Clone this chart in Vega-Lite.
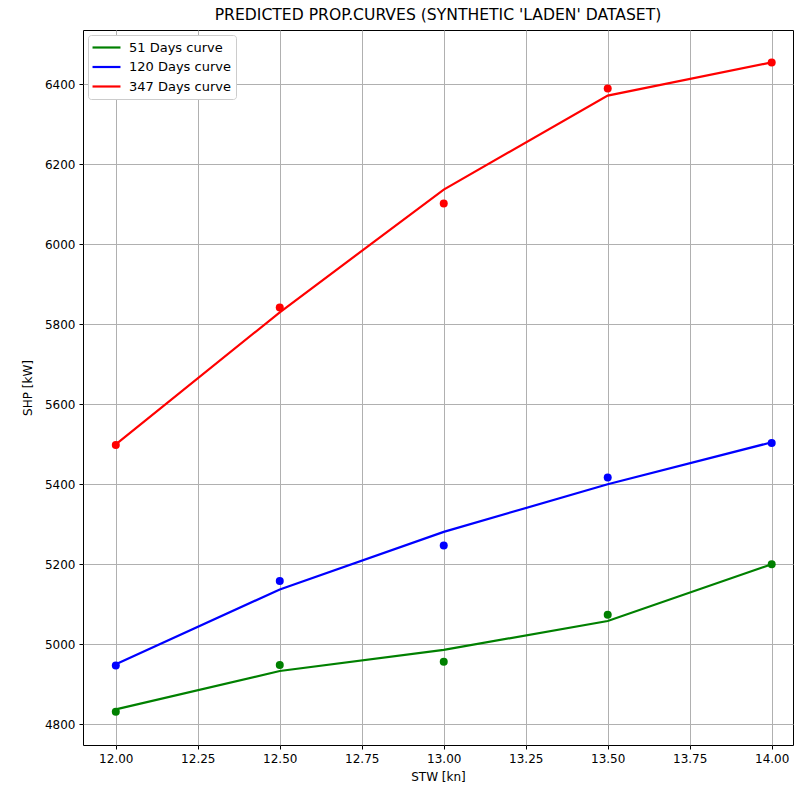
{
  "$schema": "https://vega.github.io/schema/vega-lite/v6.json",
  "autosize": {"type": "none"},
  "padding": {"left": 83, "top": 30, "right": 1, "bottom": 42},
  "width": 710,
  "height": 715,
  "background": "white",
  "config": {
    "font": "DejaVu Sans",
    "view": {"stroke": "black", "strokeWidth": 1},
    "axis": {
      "gridColor": "#b0b0b0",
      "gridWidth": 1,
      "gridOpacity": 1,
      "domain": false,
      "tickColor": "black",
      "tickSize": 4,
      "labelColor": "black",
      "labelFontSize": 12,
      "labelFont": "DejaVu Sans",
      "titleFont": "DejaVu Sans",
      "titleFontSize": 12,
      "titleFontWeight": "normal",
      "titleColor": "black",
      "labelPadding": 4
    }
  },
  "title": {
    "text": "PREDICTED PROP.CURVES (SYNTHETIC 'LADEN' DATASET)",
    "fontSize": 15.6,
    "fontWeight": "normal",
    "font": "DejaVu Sans",
    "color": "black",
    "offset": 6
  },
  "data": {
    "values": [
      {"series": "51 Days curve", "stw": 12.0, "obs": 4831, "fit": 4837},
      {"series": "51 Days curve", "stw": 12.5, "obs": 4948, "fit": 4933},
      {"series": "51 Days curve", "stw": 13.0, "obs": 4956, "fit": 4986},
      {"series": "51 Days curve", "stw": 13.5, "obs": 5074, "fit": 5058},
      {"series": "51 Days curve", "stw": 14.0, "obs": 5200, "fit": 5200},
      {"series": "120 Days curve", "stw": 12.0, "obs": 4947, "fit": 4950},
      {"series": "120 Days curve", "stw": 12.5, "obs": 5158, "fit": 5137},
      {"series": "120 Days curve", "stw": 13.0, "obs": 5247, "fit": 5281},
      {"series": "120 Days curve", "stw": 13.5, "obs": 5417, "fit": 5400},
      {"series": "120 Days curve", "stw": 14.0, "obs": 5503, "fit": 5505},
      {"series": "347 Days curve", "stw": 12.0, "obs": 5498, "fit": 5500},
      {"series": "347 Days curve", "stw": 12.5, "obs": 5842, "fit": 5830},
      {"series": "347 Days curve", "stw": 13.0, "obs": 6102, "fit": 6137},
      {"series": "347 Days curve", "stw": 13.5, "obs": 6390, "fit": 6372},
      {"series": "347 Days curve", "stw": 14.0, "obs": 6455, "fit": 6455}
    ]
  },
  "encoding": {
    "x": {
      "field": "stw",
      "type": "quantitative",
      "scale": {"domain": [11.9, 14.065], "nice": false, "zero": false},
      "axis": {
        "title": "STW [kn]",
        "values": [12, 12.25, 12.5, 12.75, 13, 13.25, 13.5, 13.75, 14],
        "format": ".2f",
        "titlePadding": 7
      }
    }
  },
  "layer": [
    {
      "mark": {"type": "line", "strokeWidth": 2.2},
      "encoding": {
        "y": {
          "field": "fit",
          "type": "quantitative",
          "scale": {"domain": [4748, 6536], "nice": false, "zero": false},
          "axis": {
            "title": "SHP [kW]",
            "values": [4800, 5000, 5200, 5400, 5600, 5800, 6000, 6200, 6400],
            "format": "d",
            "titlePadding": 10
          }
        },
        "stroke": {
          "field": "series",
          "type": "nominal",
          "scale": {
            "domain": ["51 Days curve", "120 Days curve", "347 Days curve"],
            "range": ["#008000", "#0000ff", "#ff0000"]
          },
          "legend": {
            "title": null,
            "orient": "top-left",
            "offset": 5,
            "symbolType": "M-2.33,0H2.33",
            "symbolSize": 144,
            "symbolOffset": 6,
            "symbolStrokeWidth": 2.2,
            "labelFontSize": 13,
            "labelFont": "DejaVu Sans",
            "labelColor": "black",
            "rowPadding": 4.5,
            "padding": 5,
            "strokeColor": "#cccccc",
            "fillColor": "white",
            "cornerRadius": 3,
            "labelOffset": 15
          }
        },
        "detail": {"field": "series"}
      }
    },
    {
      "mark": {"type": "point", "filled": true, "opacity": 1, "size": 64, "shape": "circle"},
      "encoding": {
        "y": {"field": "obs", "type": "quantitative"},
        "fill": {
          "field": "series",
          "type": "nominal",
          "scale": {
            "domain": ["51 Days curve", "120 Days curve", "347 Days curve"],
            "range": ["#008000", "#0000ff", "#ff0000"]
          },
          "legend": null
        }
      }
    }
  ]
}
